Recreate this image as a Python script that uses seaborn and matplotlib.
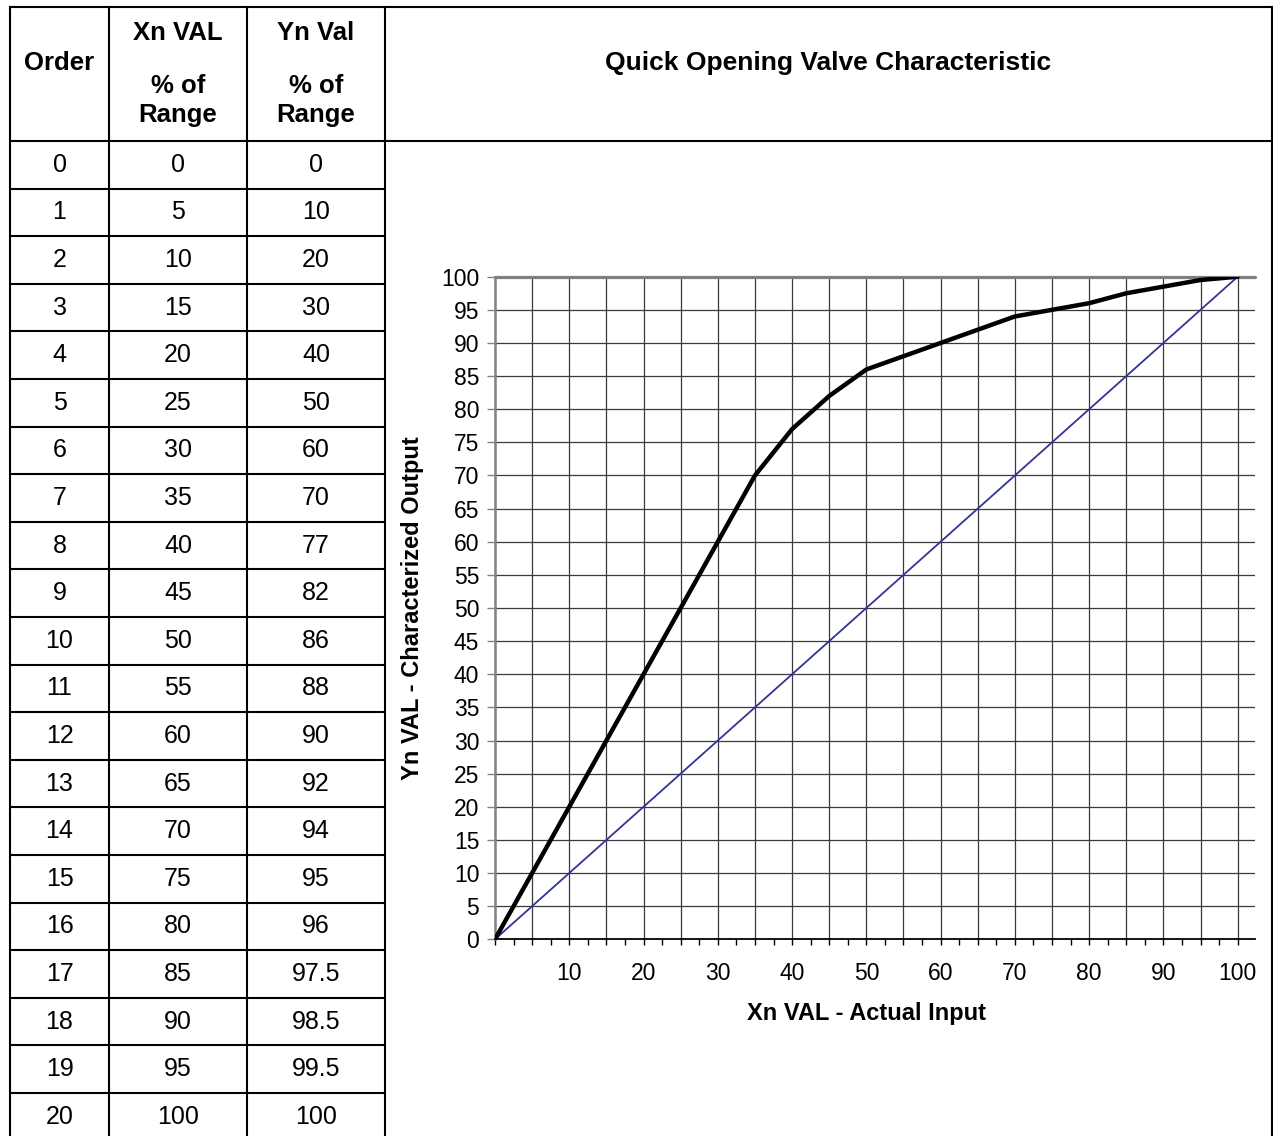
import numpy as np
import pandas as pd
import matplotlib
matplotlib.use("Agg")
import matplotlib.pyplot as plt
import seaborn as sns
from matplotlib.ticker import FixedLocator, MultipleLocator

# ---------------- data ----------------
order = list(range(21))
xn_val = [0, 5, 10, 15, 20, 25, 30, 35, 40, 45, 50, 55, 60, 65, 70, 75, 80, 85, 90, 95, 100]
yn_val = [0, 10, 20, 30, 40, 50, 60, 70, 77, 82, 86, 88, 90, 92, 94, 95, 96, 97.5, 98.5, 99.5, 100]
linear_ref = [0, 5, 10, 15, 20, 25, 30, 35, 40, 45, 50, 55, 60, 65, 70, 75, 80, 85, 90, 95, 100]
y_ticks = [0, 5, 10, 15, 20, 25, 30, 35, 40, 45, 50, 55, 60, 65, 70, 75, 80, 85, 90, 95, 100]
x_tick_labels = [10, 20, 30, 40, 50, 60, 70, 80, 90, 100]

col_headers = [["Order"], ["Xn VAL", "% of", "Range"], ["Yn Val", "% of", "Range"]]
chart_title = "Quick Opening Valve Characteristic"
x_label = "Xn VAL - Actual Input"
y_label = "Yn VAL - Characterized Output"

df = pd.DataFrame({"x": xn_val, "y": yn_val, "ref": linear_ref})

# ---------------- style ----------------
sns.set_theme(style="white")
plt.rcParams["font.family"] = ["Liberation Sans", "DejaVu Sans"]
plt.rcParams["text.color"] = "black"
plt.rcParams["axes.labelcolor"] = "black"
plt.rcParams["xtick.color"] = "black"
plt.rcParams["ytick.color"] = "black"

W, H = 1273, 1136
fig = plt.figure(figsize=(W / 100, H / 100), dpi=100)
fig.patch.set_facecolor("white")

# background axes in pixel coordinates for the table frame
bg = fig.add_axes([0, 0, 1, 1])
bg.set_xlim(0, W)
bg.set_ylim(H, 0)
bg.axis("off")

lw_tab = 1.5
col_x = [10, 109, 247, 385, 1272]
top_y = 7
head_y = 141
row_h = 47.6

for cx in col_x:
    bg.plot([cx, cx], [top_y, H + 5], color="black", lw=lw_tab, solid_capstyle="projecting")
bg.plot([col_x[0], col_x[-1]], [top_y, top_y], color="black", lw=lw_tab)
bg.plot([col_x[0], col_x[-1]], [head_y, head_y], color="black", lw=lw_tab)
for k in range(1, 21):
    yy = head_y + row_h * k
    bg.plot([col_x[0], col_x[3]], [yy, yy], color="black", lw=lw_tab)

fs_tab = 18
fs_head = 18.5
centers = [(col_x[i] + col_x[i + 1]) / 2 for i in range(3)]
# headers
bg.text(centers[0], 63, col_headers[0][0], ha="center", va="center", fontsize=fs_head, fontweight="bold")
for ci in (1, 2):
    lines = col_headers[ci]
    bg.text(centers[ci], 33, lines[0], ha="center", va="center", fontsize=fs_head, fontweight="bold")
    bg.text(centers[ci], 86, lines[1], ha="center", va="center", fontsize=fs_head, fontweight="bold")
    bg.text(centers[ci], 115, lines[2], ha="center", va="center", fontsize=fs_head, fontweight="bold")

def fmt(v):
    return str(int(v)) if float(v).is_integer() else str(v)

for k in range(21):
    cy = head_y + row_h * (k + 0.5)
    for ci, vals in enumerate((order, xn_val, yn_val)):
        bg.text(centers[ci], cy, fmt(vals[k]), ha="center", va="center", fontsize=fs_tab)

# chart title
bg.text(828, 63, chart_title, ha="center", va="center", fontsize=19, fontweight="bold")

# ---------------- chart ----------------
x0_px, x100_px, xr_px = 495, 1237.7, 1255
y0_px, y100_px = 939.3, 276.7
ppu = (x100_px - x0_px) / 100
xmax = (xr_px - x0_px) / ppu

ax = fig.add_axes([x0_px / W, 1 - y0_px / H, (xr_px - x0_px) / W, (y0_px - y100_px) / H])
ax.set_facecolor("white")
ax.set_xlim(0, xmax)
ax.set_ylim(0, 100)

grid_c = "#3a3a3a"
for xv in xn_val[1:]:
    ax.axvline(xv, color=grid_c, lw=0.9, zorder=1)
for yv in y_ticks[1:-1]:
    ax.axhline(yv, color=grid_c, lw=0.9, zorder=1)
ax.axhline(100, color="#808080", lw=2.3, zorder=1, clip_on=False)

sns.lineplot(data=df, x="x", y="ref", ax=ax, color="#33339a", lw=1.3, zorder=3)
sns.lineplot(data=df, x="x", y="y", ax=ax, color="black", lw=3.2, zorder=4)

for s in ("top", "right"):
    ax.spines[s].set_visible(False)
ax.spines["left"].set_color("#808080")
ax.spines["left"].set_linewidth(1.8)
ax.spines["bottom"].set_color("black")
ax.spines["bottom"].set_linewidth(1.3)
ax.spines["bottom"].set_zorder(5)

ax.yaxis.set_major_locator(FixedLocator(y_ticks))
ax.set_yticklabels([str(v) for v in y_ticks])
ax.xaxis.set_major_locator(FixedLocator(x_tick_labels))
ax.set_xticklabels([str(v) for v in x_tick_labels])
ax.xaxis.set_minor_locator(MultipleLocator(2.5))

ax.tick_params(axis="y", which="major", left=True, length=5.8, width=1.0, color="#808080",
               pad=5.5, labelsize=16.5, labelcolor="black", direction="out")
ax.tick_params(axis="x", which="both", bottom=True, length=4.3, width=1.0, color="black",
               direction="out")
ax.tick_params(axis="x", which="major", pad=12, labelsize=16.5, labelcolor="black")

ax.set_xlabel(x_label, fontsize=17, fontweight="bold")
ax.set_ylabel(y_label, fontsize=17, fontweight="bold")
ax.xaxis.set_label_coords(50 / xmax, -0.1127)
ax.yaxis.set_label_coords((413 - x0_px) / (xr_px - x0_px), 0.5)
ax.xaxis.label.set_va("center")
ax.yaxis.label.set_va("center")

fig.savefig("out.png", dpi=100, facecolor="white")
